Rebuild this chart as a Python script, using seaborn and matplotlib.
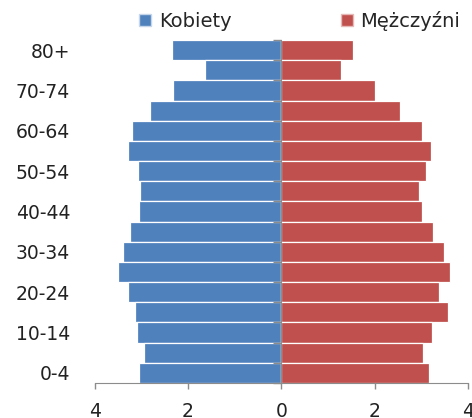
import numpy as np
import pandas as pd
import matplotlib
matplotlib.use("Agg")
import matplotlib.pyplot as plt
from matplotlib.ticker import FuncFormatter, FixedLocator
from matplotlib.patches import Patch
import seaborn as sns

# grupy wieku od najmłodszej
ages = ['0-4', '5-9', '10-14', '15-19', '20-24', '25-29', '30-34', '35-39', '40-44',
        '45-49', '50-54', '55-59', '60-64', '65-69', '70-74', '75-79', '80+']
kobiety = [3.05, 2.95, 3.10, 3.13, 3.29, 3.49, 3.39, 3.24, 3.05,
           3.02, 3.08, 3.29, 3.21, 2.82, 2.33, 1.63, 2.35]
mezczyzni = [3.16, 3.03, 3.22, 3.58, 3.37, 3.61, 3.48, 3.24, 3.01,
             2.96, 3.09, 3.21, 3.01, 2.54, 2.00, 1.28, 1.53]
x_ticks = [-4, -2, 0, 2, 4]

blue = '#4F81BD'
red = '#C0504D'
gray = '#8C8C8C'

df = pd.DataFrame({'wiek': ages, 'Kobiety': [-v for v in kobiety], 'Mężczyźni': mezczyzni})
order = ages[::-1]

sns.set_style('white')
plt.rcParams['font.family'] = ['DejaVu Sans']

fig = plt.figure(figsize=(4.72, 4.18), dpi=100)
ax = fig.add_axes([0.2006, 0.0837, 0.7909, 0.8206])

sns.barplot(data=df, x='Kobiety', y='wiek', order=order, orient='h', color=blue,
            saturation=1, width=1, errorbar=None, edgecolor='white', linewidth=0.9, ax=ax)
sns.barplot(data=df, x='Mężczyźni', y='wiek', order=order, orient='h', color=red,
            saturation=1, width=1, errorbar=None, edgecolor='white', linewidth=0.9, ax=ax)

ax.set_xlim(-4, 4)
ax.set_xlabel('')
ax.set_ylabel('')

# oś X - wartości bezwzględne
ax.xaxis.set_major_locator(FixedLocator(x_ticks))
ax.xaxis.set_major_formatter(FuncFormatter(lambda v, p: f'{abs(v):g}'))
ax.tick_params(axis='x', direction='out', length=4.5, width=1, color=gray,
               labelsize=13.5, pad=9, labelcolor='#222222', bottom=True)

# oś Y na zerze, etykiety co druga grupa po lewej
ax.spines['left'].set_position(('data', 0))
ax.spines['left'].set_color(gray)
ax.spines['bottom'].set_color(gray)
ax.spines['top'].set_visible(False)
ax.spines['right'].set_visible(False)
pos = np.arange(len(order))
ax.set_yticks(pos[::-2])
ax.set_yticklabels(ages[::2])
ax.set_yticks(np.arange(-0.5, len(order)), minor=True)
ax.tick_params(axis='y', which='major', length=0, pad=152, labelsize=13.5,
               labelcolor='#222222', left=True)
ax.tick_params(axis='y', which='minor', direction='out', length=6, width=1,
               color=gray, left=True)
ax.set_axisbelow(False)

handles = [Patch(facecolor=blue, edgecolor='#C6D6EA'), Patch(facecolor=red, edgecolor='#E6B9B8')]
fig.legend(handles, ['Kobiety', 'Mężczyźni'], loc='center', bbox_to_anchor=(0.635, 0.95),
           ncol=2, frameon=False, fontsize=14, handlelength=0.62, handleheight=0.62,
           handletextpad=0.4, columnspacing=5.6)

fig.savefig('out.png', dpi=100)
